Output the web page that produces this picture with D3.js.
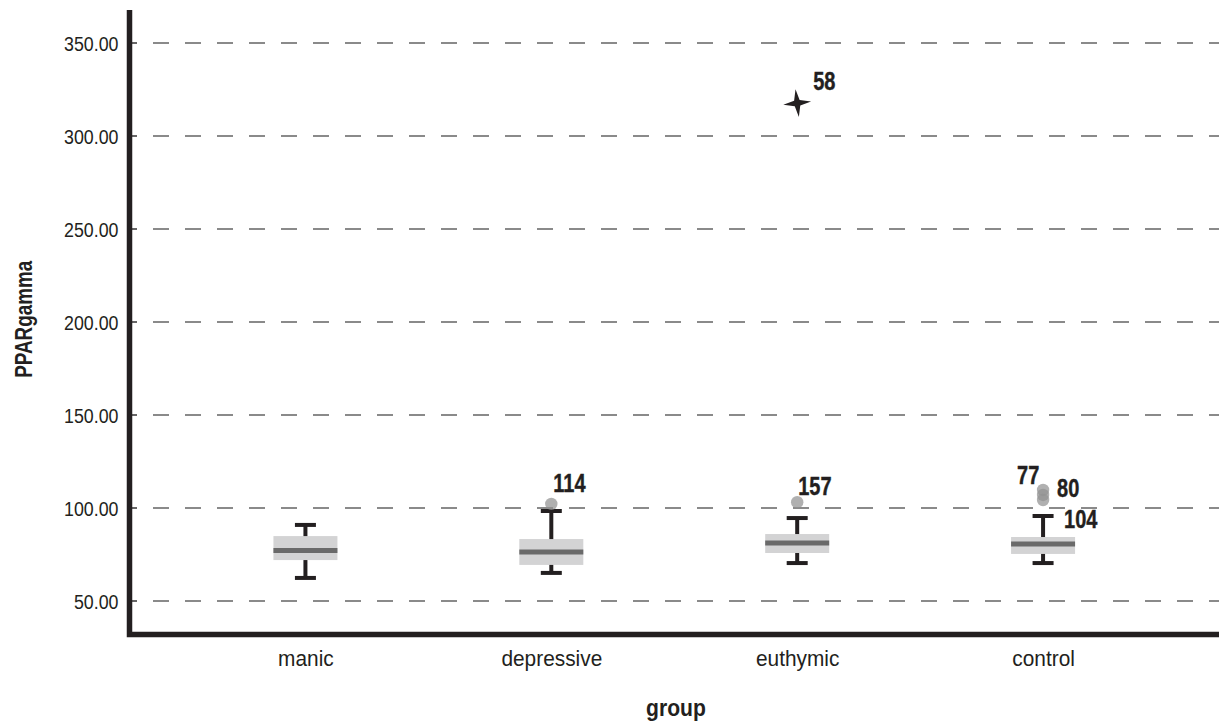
<!DOCTYPE html>
<html><head><meta charset="utf-8">
<script src="https://cdn.jsdelivr.net/npm/d3@7"></script>
<style>
html,body{margin:0;padding:0;background:#fff;}
svg{display:block;}
</style></head>
<body>
<svg id="chart" width="1219" height="722"></svg>
<script>
// ---- data ----
const categories = ["manic", "depressive", "euthymic", "control"];
const whiskerLow  = [62.4, 65.1, 70.4, 70.4];
const q1          = [72.0, 69.4, 75.8, 75.3];
const medians     = [77.2, 76.3, 81.2, 80.6];
const q3          = [84.9, 83.3, 86.0, 84.4];
const whiskerHigh = [90.9, 98.4, 94.6, 95.7];
// outliers (circles) and extremes (stars)
const outlierGroup = ["depressive", "euthymic", "control", "control", "control"];
const outlierValue = [102.2, 103.1, 109.7, 107.0, 104.3];
const outlierLabel = ["114", "157", "77", "80", "104"];
const extremeGroup = ["euthymic"];
const extremeValue = [317.7];
const extremeLabel = ["58"];
const yTicks = [50, 100, 150, 200, 250, 300, 350];

// ---- layout ----
const svg = d3.select("#chart");
const axisX = 129.5, axisY = 634.5, topY = 10, rightX = 1219;
const x = d3.scalePoint().domain(categories).range([axisX, rightX]).padding(0.7155);
const y = d3.scaleLinear().domain([50, 350]).range([601, 43]);

const font = "'Liberation Sans', Arial, sans-serif";
const ink = "#231f20";

// condense text horizontally (reference uses a narrow face)
function condense(sel, f) {
  sel.each(function () {
    const w = this.getComputedTextLength();
    d3.select(this).attr("textLength", w * f).attr("lengthAdjust", "spacingAndGlyphs");
  });
}

// gridlines
svg.append("g").selectAll("line").data(yTicks).join("line")
  .attr("x1", 153).attr("x2", rightX)
  .attr("y1", d => y(d)).attr("y2", d => y(d))
  .attr("stroke", "#8a8a8a").attr("stroke-width", 2)
  .attr("stroke-dasharray", "16,16");

// y axis
const yAxis = d3.axisLeft(y).tickValues(yTicks).tickFormat(d3.format(".2f")).tickSize(0).tickPadding(11);
const gy = svg.append("g").attr("transform", `translate(${axisX},0)`).call(yAxis);
gy.select(".domain").remove();
gy.selectAll("text").attr("font-family", font).attr("font-size", 20).attr("fill", ink).attr("dy", "0.36em");
condense(gy.selectAll("text"), 0.89);
// small inner ticks
svg.append("g").selectAll("line").data(yTicks).join("line")
  .attr("x1", axisX).attr("x2", 137).attr("y1", d => y(d)).attr("y2", d => y(d))
  .attr("stroke", "#666").attr("stroke-width", 2);

// x axis labels
const xAxis = d3.axisBottom(x).tickSize(0).tickPadding(16);
const gx = svg.append("g").attr("transform", `translate(0,${axisY})`).call(xAxis);
gx.select(".domain").remove();
gx.selectAll("text").attr("font-family", font).attr("font-size", 21.5).attr("fill", ink);
condense(gx.selectAll("text"), 0.97);

// axis lines
svg.append("path")
  .attr("d", `M${axisX},${topY} V${axisY} H${rightX}`)
  .attr("fill", "none").attr("stroke", ink).attr("stroke-width", 5.5);

// boxes
const boxW = 64, capW = 21;
const g = svg.append("g");
categories.forEach((c, i) => {
  const cx = x(c);
  g.append("line").attr("x1", cx).attr("x2", cx).attr("y1", y(whiskerHigh[i])).attr("y2", y(whiskerLow[i]))
    .attr("stroke", ink).attr("stroke-width", 4);
  [whiskerHigh[i], whiskerLow[i]].forEach(v => {
    g.append("line").attr("x1", cx - capW / 2).attr("x2", cx + capW / 2).attr("y1", y(v)).attr("y2", y(v))
      .attr("stroke", ink).attr("stroke-width", 4);
  });
  g.append("rect").attr("x", cx - boxW / 2).attr("width", boxW)
    .attr("y", y(q3[i])).attr("height", y(q1[i]) - y(q3[i]))
    .attr("fill", "#d3d3d4");
  g.append("line").attr("x1", cx - boxW / 2).attr("x2", cx + boxW / 2).attr("y1", y(medians[i])).attr("y2", y(medians[i]))
    .attr("stroke", "#6a6a6a").attr("stroke-width", 5);
});

// outliers
const labelOffsets = { "114": [2, -12], "157": [1, -7], "77": [-26, -6], "80": [14, 2], "104": [21, 28] };
outlierValue.forEach((v, i) => {
  const cx = x(outlierGroup[i]);
  g.append("circle").attr("cx", cx).attr("cy", y(v)).attr("r", 6.2)
    .attr("fill", "#929292").attr("fill-opacity", 0.72);
});
outlierValue.forEach((v, i) => {
  const cx = x(outlierGroup[i]);
  const off = labelOffsets[outlierLabel[i]];
  const t = g.append("text").attr("x", cx + off[0]).attr("y", y(v) + off[1])
    .attr("font-family", font).attr("font-weight", "bold").attr("font-size", 25).attr("fill", ink)
    .attr("stroke", ink).attr("stroke-width", 0.4)
    .text(outlierLabel[i]);
  condense(t, 0.8);
});

// extremes (four-pointed star)
const star4 = {
  draw(ctx, size) {
    const R = Math.sqrt(size), r = R * 0.28, rot = -0.12;
    for (let k = 0; k < 8; k++) {
      const a = rot - Math.PI / 2 + k * Math.PI / 4;
      const rad = k % 2 === 0 ? R : r;
      const px = Math.cos(a) * rad, py = Math.sin(a) * rad;
      if (k === 0) ctx.moveTo(px, py); else ctx.lineTo(px, py);
    }
    ctx.closePath();
  }
};
const star = d3.symbol().type(star4).size(196);
extremeValue.forEach((v, i) => {
  const cx = x(extremeGroup[i]);
  g.append("path").attr("d", star()).attr("transform", `translate(${cx},${y(v)})`).attr("fill", ink);
  const t = g.append("text").attr("x", cx + 16).attr("y", y(v) - 13)
    .attr("font-family", font).attr("font-weight", "bold").attr("font-size", 25).attr("fill", ink)
    .attr("stroke", ink).attr("stroke-width", 0.4)
    .text(extremeLabel[i]);
  condense(t, 0.8);
});

// titles
const gt = svg.append("text").attr("x", 676).attr("y", 716)
  .attr("text-anchor", "middle").attr("font-family", font).attr("font-weight", "bold").attr("font-size", 24)
  .attr("fill", ink).text("group");
condense(gt, 0.88);
const yt = svg.append("text").attr("transform", `translate(32,${(topY + axisY) / 2 - 3}) rotate(-90)`)
  .attr("text-anchor", "middle").attr("font-family", font).attr("font-weight", "bold").attr("font-size", 23)
  .attr("fill", ink).text("PPARgamma");
condense(yt, 0.82);
</script>
</body></html>
